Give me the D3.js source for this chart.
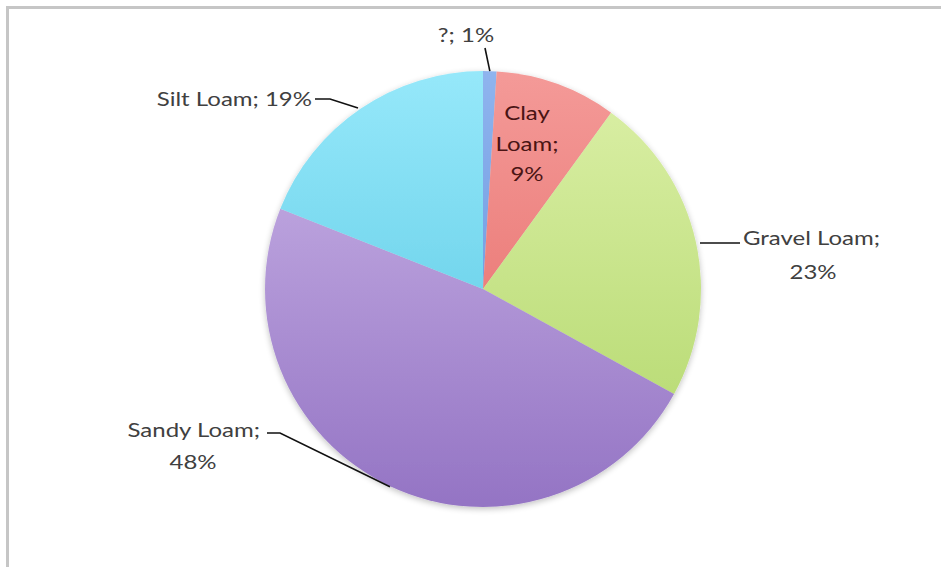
<!DOCTYPE html>
<html><head><meta charset="utf-8">
<script src="https://cdn.jsdelivr.net/npm/d3@7"></script>
<style>body{margin:0;background:#fff}svg{display:block}</style>
</head><body>
<svg id="c" width="941" height="567"></svg>
<script>
const categories = ["?", "Clay Loam", "Gravel Loam", "Sandy Loam", "Silt Loam"];
const values = [1, 9, 23, 48, 19];
const labels = [["?; 1%"], ["Clay", "Loam;", "9%"], ["Gravel Loam;", "23%"], ["Sandy Loam;", "48%"], ["Silt Loam; 19%"]];
const topColors = ["#8fb4ee", "#f49a98", "#dcf0a8", "#ccb6e8", "#96e8fa"];
const bottomColors = ["#5a8ad8", "#e46460", "#b0d668", "#9474c4", "#50c4e0"];

const svg = d3.select("#c");
const cx = 483, cy = 289, r = 218;

svg.append("rect").attr("x", 7.5).attr("y", 7.5).attr("width", 960).attr("height", 600)
  .attr("fill", "#fff").attr("stroke", "#c6c6c6").attr("stroke-width", 3);

const defs = svg.append("defs");
categories.forEach((c, i) => {
  const g = defs.append("linearGradient").attr("id", "g" + i)
    .attr("gradientUnits", "userSpaceOnUse")
    .attr("x1", 0).attr("y1", -r).attr("x2", 0).attr("y2", r);
  g.append("stop").attr("offset", 0).attr("stop-color", topColors[i]);
  g.append("stop").attr("offset", 1).attr("stop-color", bottomColors[i]);
});
const f = defs.append("filter").attr("id", "sh").attr("x", -0.2).attr("y", -0.2).attr("width", 1.4).attr("height", 1.4);
f.append("feGaussianBlur").attr("in", "SourceAlpha").attr("stdDeviation", 3).attr("result", "b");
f.append("feOffset").attr("in", "b").attr("dy", 2).attr("result", "o");
f.append("feComponentTransfer").attr("in", "o").attr("result", "t")
  .append("feFuncA").attr("type", "linear").attr("slope", 0.25);
const m = f.append("feMerge");
m.append("feMergeNode").attr("in", "t");
m.append("feMergeNode").attr("in", "SourceGraphic");

const pie = d3.pie().sort(null).value(d => d)(values);
const arc = d3.arc().innerRadius(0).outerRadius(r);
const gp = svg.append("g").attr("transform", `translate(${cx},${cy})`).attr("filter", "url(#sh)");
gp.selectAll("path").data(pie).enter().append("path")
  .attr("d", arc)
  .attr("fill", (d, i) => `url(#g${i})`);

const lp = (d, rr) => { const a = d.startAngle + (d.endAngle - d.startAngle) / 2; return [cx + rr * Math.sin(a), cy - rr * Math.cos(a)]; };
const line = d3.line();
const leaders = [
  [[485, 48], lp(pie[0], r)],
  null,
  [[740, 243], [700, 243]],
  [[267, 433], [280, 433], lp(pie[3], r + 0.5)],
  [[315, 99], [330, 99], [358, 108]]
];
leaders.forEach(l => { if (l) svg.append("path").attr("d", line(l)).attr("fill", "none").attr("stroke", "#111").attr("stroke-width", 1.6); });

const font = "Lato, 'Open Sans', sans-serif";
const sx = 1.2;
function addLabel(lines, anchors, xs, y0, anchor, color, lh) {
  lines.forEach((s, k) => {
    svg.append("text")
      .attr("transform", `translate(${xs[k]},${y0 + k * lh}) scale(${sx},1)`)
      .attr("text-anchor", anchors[k] || anchor)
      .attr("font-family", font).attr("font-size", 20).attr("fill", color)
      .text(s);
  });
}
addLabel(labels[0], [], [466], 42, "middle", "#404040", 30);
addLabel(labels[1], [], [527, 527, 527], 120, "middle", "#4a1414", 30.5);
addLabel(labels[2], ["start", "middle"], [743, 813], 245, "start", "#404040", 34);
addLabel(labels[3], ["end", "middle"], [260, 193], 437, "end", "#404040", 32);
addLabel(labels[4], [], [312], 106, "end", "#404040", 30);
</script>
</body></html>
